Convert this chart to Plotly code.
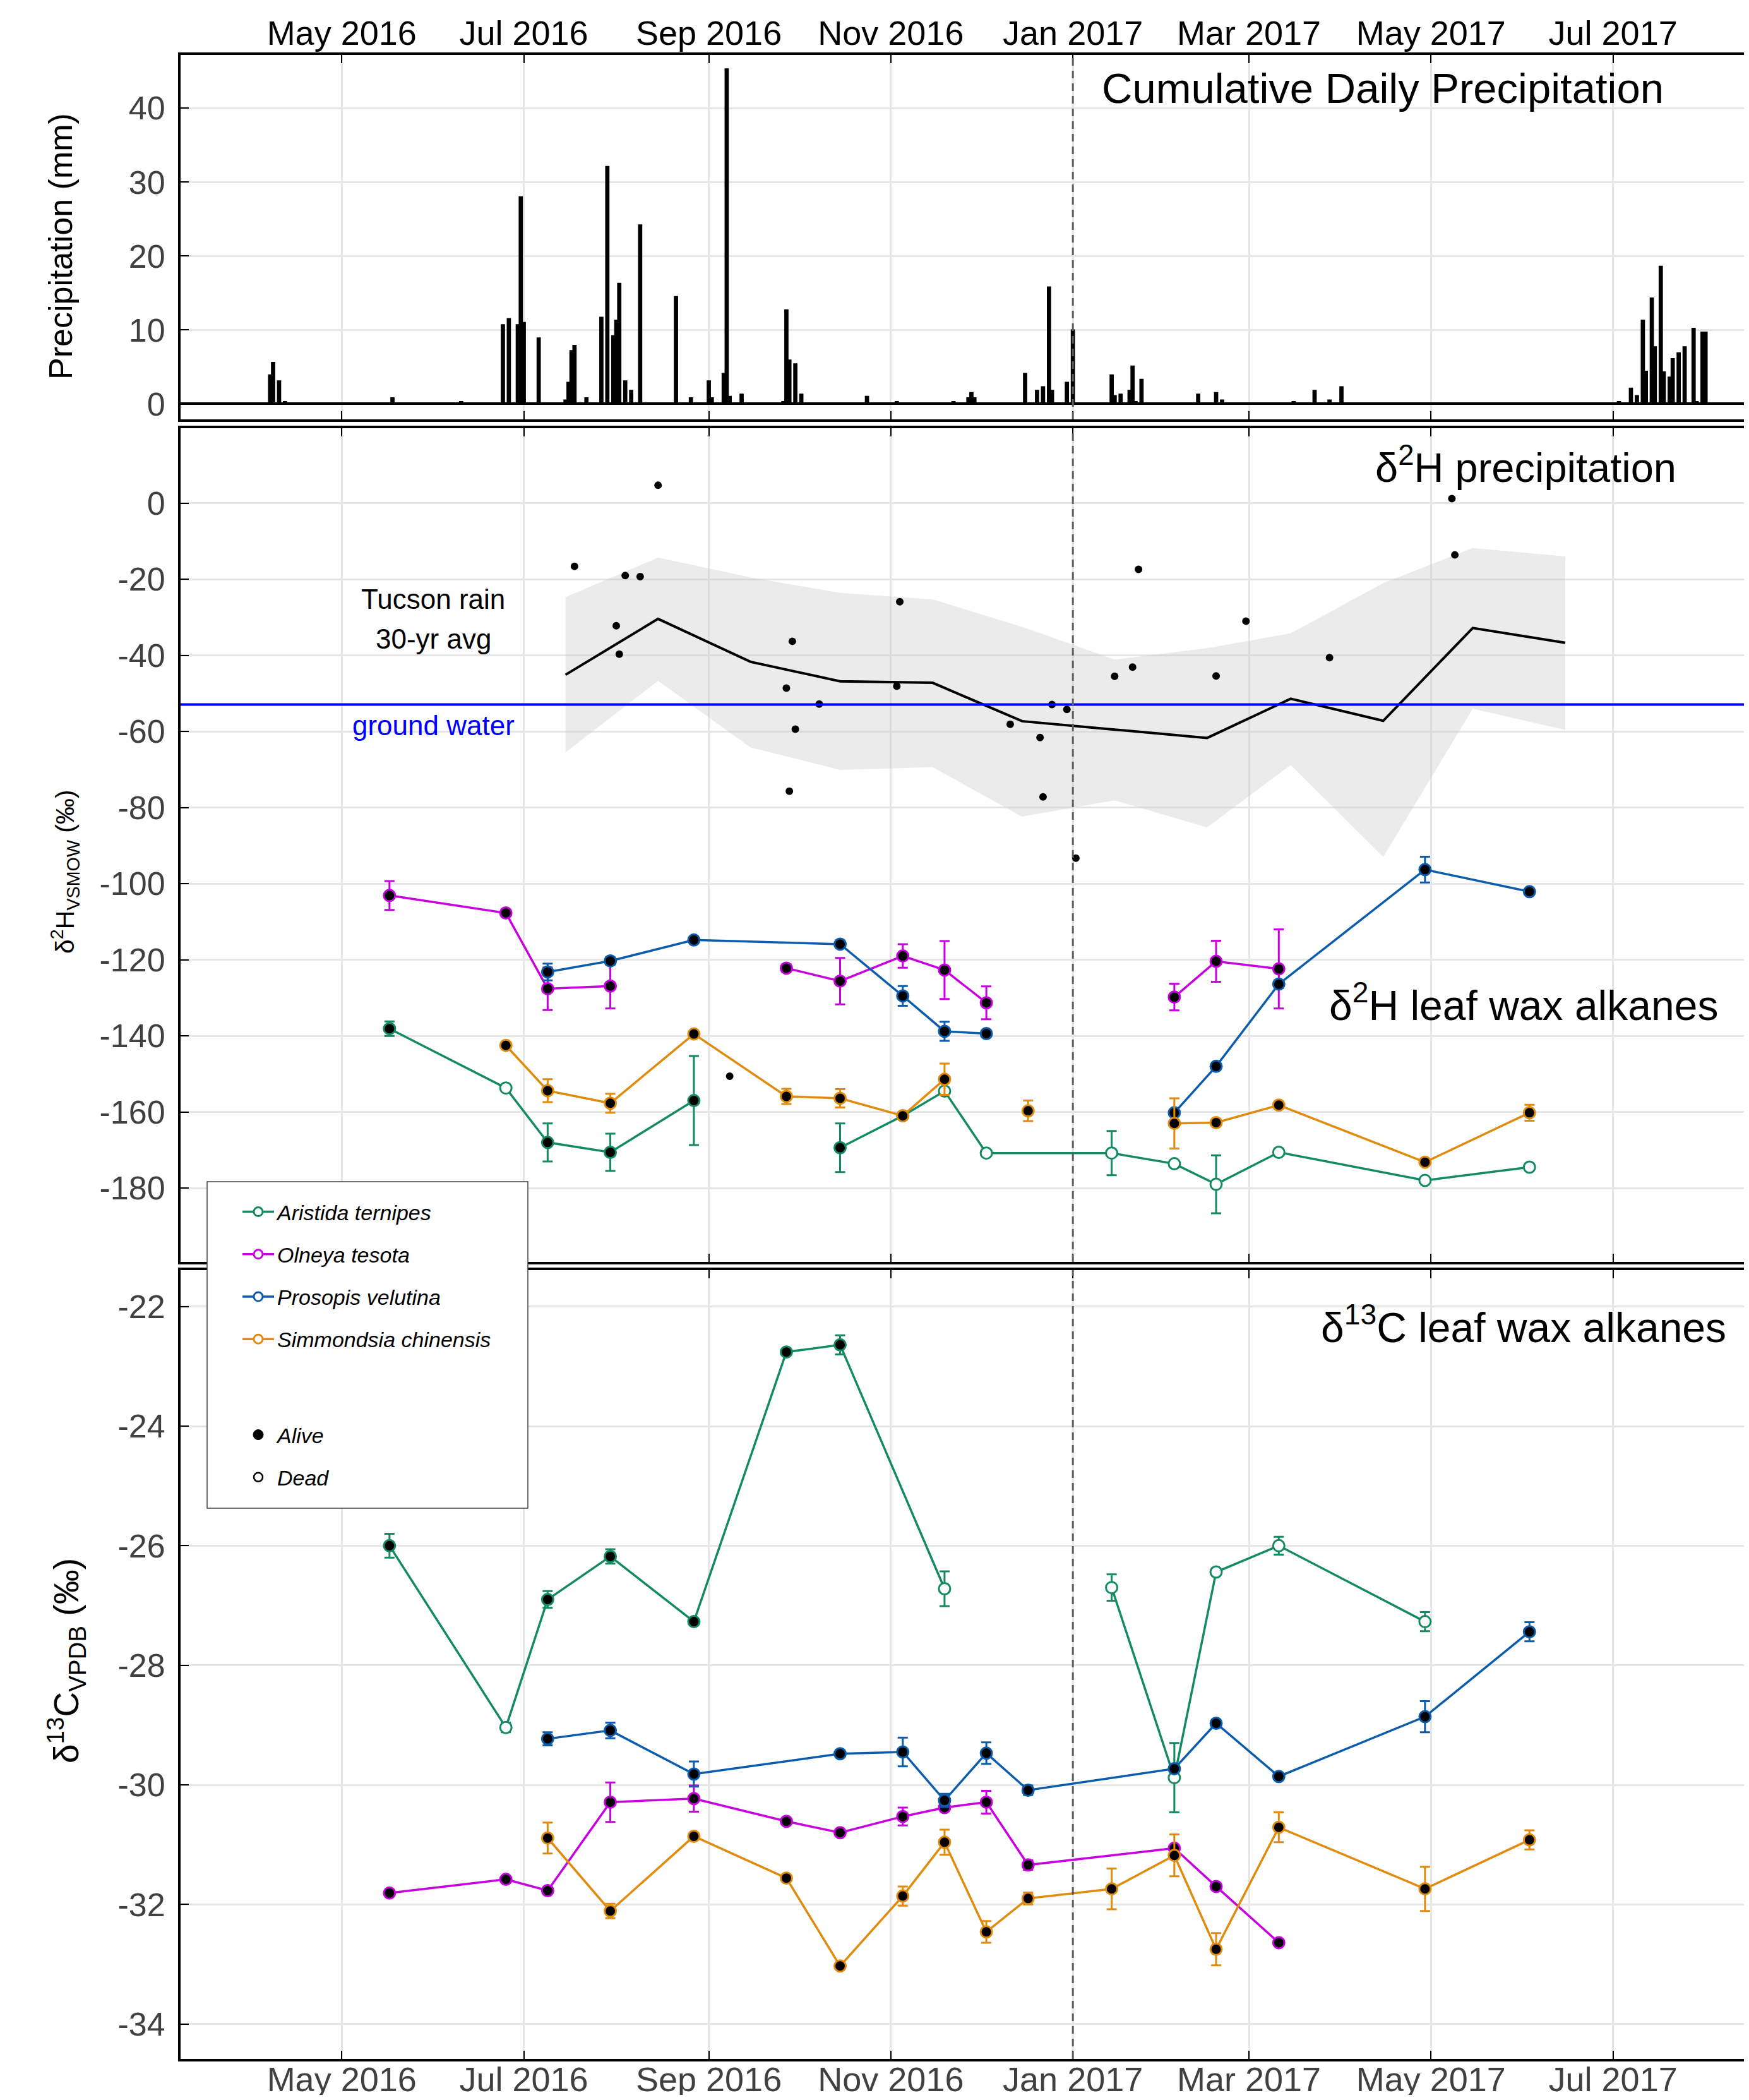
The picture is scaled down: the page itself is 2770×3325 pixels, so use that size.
import plotly.graph_objects as go

# ---------------------------------------------------------------- data
PRECIP_DATES = [
    "2016-04-07", "2016-04-08", "2016-04-10", "2016-04-12", "2016-05-18", "2016-06-10",
    "2016-06-24", "2016-06-26", "2016-06-29", "2016-06-30", "2016-07-01", "2016-07-06",
    "2016-07-15", "2016-07-16", "2016-07-17", "2016-07-18", "2016-07-22", "2016-07-27",
    "2016-07-29", "2016-07-31", "2016-08-01", "2016-08-02", "2016-08-04", "2016-08-06",
    "2016-08-09", "2016-08-21", "2016-08-26", "2016-09-01", "2016-09-02", "2016-09-06",
    "2016-09-07", "2016-09-08", "2016-09-12", "2016-09-26", "2016-09-27", "2016-09-28",
    "2016-09-30", "2016-10-02", "2016-10-24", "2016-11-03", "2016-11-22", "2016-11-27",
    "2016-11-28", "2016-11-29", "2016-12-16", "2016-12-20", "2016-12-22", "2016-12-24",
    "2016-12-25", "2016-12-30", "2017-01-01", "2017-01-14", "2017-01-15", "2017-01-17",
    "2017-01-20", "2017-01-21", "2017-01-22", "2017-01-24", "2017-02-12", "2017-02-18",
    "2017-02-20", "2017-03-16", "2017-03-23", "2017-03-28", "2017-04-01", "2017-07-03",
    "2017-07-07", "2017-07-09", "2017-07-11", "2017-07-12", "2017-07-14", "2017-07-15",
    "2017-07-17", "2017-07-18", "2017-07-20", "2017-07-21", "2017-07-23", "2017-07-25",
    "2017-07-28", "2017-07-29", "2017-07-31", "2017-08-01",
]
PRECIP_MM = [
    3.9, 5.6, 3.1, 0.3, 0.8, 0.3,
    10.7, 11.5, 10.7, 28.0, 11.0, 8.9,
    0.5, 2.9, 7.2, 7.9, 0.8, 11.7,
    32.1, 9.2, 11.3, 16.3, 3.1, 1.8,
    24.2, 14.5, 0.8, 3.1, 0.8, 4.1,
    45.3, 1.0, 1.3, 0.3, 12.7, 5.9,
    5.4, 1.3, 1.0, 0.3, 0.3, 0.8,
    1.5, 0.8, 4.1, 1.8, 2.3, 15.8,
    1.8, 2.9, 10.0, 3.9, 1.1, 1.3,
    1.8, 5.1, 0.3, 3.3, 1.3, 1.5,
    0.5, 0.3, 1.8, 0.5, 2.3, 0.3,
    2.1, 1.1, 11.3, 4.4, 14.3, 7.7,
    18.6, 4.3, 3.6, 6.1, 6.9, 7.7,
    10.2, 0.3, 9.7, 9.7,
]

RAIN_D2H_DATES = [
    "2016-07-18", "2016-08-01", "2016-08-02", "2016-08-04", "2016-08-09", "2016-08-15",
    "2016-09-08", "2016-09-27", "2016-09-28", "2016-09-29", "2016-09-30", "2016-10-08",
    "2016-11-03", "2016-11-04", "2016-12-11", "2016-12-21", "2016-12-22", "2016-12-25",
    "2016-12-30", "2017-01-02", "2017-01-15", "2017-01-21", "2017-01-23", "2017-02-18",
    "2017-02-28", "2017-03-28", "2017-05-08", "2017-05-09",
]
RAIN_D2H = [
    -16.6, -32.2, -39.7, -19.0, -19.3, 4.7,
    -150.6, -48.6, -75.7, -36.3, -59.4, -52.8,
    -48.1, -25.9, -58.1, -61.6, -77.2, -52.9,
    -54.2, -93.3, -45.5, -43.1, -17.4, -45.4,
    -31.0, -40.6, 1.2, -13.6,
]

NORMAL_DATES = ["2016-07-15", "2016-08-15", "2016-09-15", "2016-10-15", "2016-11-15", "2016-12-15",
                "2017-01-15", "2017-02-15", "2017-03-15", "2017-04-15", "2017-05-15", "2017-06-15"]
NORMAL_MEAN = [-45.1, -30.4, -41.7, -46.8, -47.2, -57.3, -59.5, -61.7, -51.4, -57.2, -32.8, -36.7]
NORMAL_HIGH = [-24.7, -14.3, -19.5, -23.6, -25.3, -32.5, -41.1, -38.1, -34.2, -21.0, -11.8, -14.0]
NORMAL_LOW = [-65.5, -46.7, -64.2, -70.1, -69.4, -82.4, -78.1, -85.2, -68.8, -93.0, -54.0, -59.6]

GROUND_WATER_D2H = -52.9
YEAR_SPLIT = "2017-01-01"

SPECIES = ["Aristida ternipes", "Olneya tesota", "Prosopis velutina", "Simmondsia chinensis"]
COLORS = ["#138a63", "#c800e0", "#0b5cad", "#e08b0c"]

# delta 2H leaf wax (None = no sample, line broken)
ARISTIDA_D2H_DATES = ["2016-05-17", "2016-06-25", "2016-07-09", "2016-07-30", "2016-08-27", "2016-09-27",
                      "2016-10-15", "2016-11-05", "2016-11-19", "2016-12-03", "2017-01-14", "2017-02-04",
                      "2017-02-18", "2017-03-11", "2017-04-29", "2017-06-03"]
ARISTIDA_D2H = [-138.1, -153.7, -168.0, -170.6, -157.0, None, -169.4, -161.0, -154.5, -170.8,
                -170.8, -173.6, -179.0, -170.6, -178.0, -174.5]
ARISTIDA_D2H_SD = [1.9, 0.5, 5.0, 4.9, 11.7, None, 6.4, 0.5, 0.5, 0.5, 5.8, 0.5, 7.6, 0.5, 0.5, 0.5]
ARISTIDA_D2H_ALIVE = [1, 0, 1, 1, 1, 1, 1, 1, 0, 0, 0, 0, 0, 0, 0, 0]

OLNEYA_D2H_DATES = ["2016-05-17", "2016-06-25", "2016-07-09", "2016-07-30", "2016-08-27", "2016-09-27",
                    "2016-10-15", "2016-11-05", "2016-11-19", "2016-12-03", "2016-12-17", "2017-02-04",
                    "2017-02-18", "2017-03-11"]
OLNEYA_D2H = [-103.1, -107.7, -127.6, -126.9, None, -122.2, -125.6, -119.0, -122.7, -131.3, None,
              -129.8, -120.4, -122.4]
OLNEYA_D2H_SD = [3.8, 0.5, 5.6, 5.9, None, 1.0, 6.1, 3.1, 7.6, 4.3, None, 3.5, 5.4, 10.4]
OLNEYA_D2H_ALIVE = [1] * 14

PROSOPIS_D2H_DATES = ["2016-07-09", "2016-07-30", "2016-08-27", "2016-10-15", "2016-11-05", "2016-11-19",
                      "2016-12-03", "2016-12-17", "2017-02-04", "2017-02-18", "2017-03-11", "2017-04-29",
                      "2017-06-03"]
PROSOPIS_D2H = [-123.2, -120.3, -114.8, -115.9, -129.5, -138.8, -139.4, None, -160.2, -148.0,
                -126.4, -96.3, -102.1]
PROSOPIS_D2H_SD = [2.2, 1.0, 0.5, 1.0, 2.6, 2.5, 0.8, None, 0.8, 0.8, 1.0, 3.4, 0.8]
PROSOPIS_D2H_ALIVE = [1] * 13

SIMMONDSIA_D2H_DATES = ["2016-06-25", "2016-07-09", "2016-07-30", "2016-08-27", "2016-09-27", "2016-10-15",
                        "2016-11-05", "2016-11-19", "2016-12-03", "2016-12-17", "2017-01-14", "2017-02-04",
                        "2017-02-18", "2017-03-11", "2017-04-29", "2017-06-03"]
SIMMONDSIA_D2H = [-142.5, -154.4, -157.7, -139.5, -155.9, -156.4, -161.0, -151.4, None, -159.7, None,
                  -163.0, -162.8, -158.2, -173.2, -160.2]
SIMMONDSIA_D2H_SD = [0.8, 3.0, 2.5, 0.8, 2.0, 2.4, 0.8, 4.1, None, 2.7, None, 6.6, 0.8, 1.0, 0.8, 2.1]
SIMMONDSIA_D2H_ALIVE = [1] * 16

# delta 13C leaf wax
ARISTIDA_D13C_DATES = ["2016-05-17", "2016-06-25", "2016-07-09", "2016-07-30", "2016-08-27", "2016-09-27",
                       "2016-10-15", "2016-11-19", "2016-12-03", "2017-01-14", "2017-02-04", "2017-02-18",
                       "2017-03-11", "2017-04-29"]
ARISTIDA_D13C = [-26.0, -29.04, -26.9, -26.18, -27.27, -22.76, -22.64, -26.72, None, -26.70, -29.88,
                 -26.44, -26.0, -27.27]
ARISTIDA_D13C_SD = [0.2, 0.08, 0.14, 0.12, 0.05, 0.05, 0.16, 0.29, None, 0.22, 0.58, 0.05, 0.15, 0.16]
ARISTIDA_D13C_ALIVE = [1, 0, 1, 1, 1, 1, 1, 0, 0, 0, 0, 0, 0, 0]

OLNEYA_D13C_DATES = ["2016-05-17", "2016-06-25", "2016-07-09", "2016-07-30", "2016-08-27", "2016-09-27",
                     "2016-10-15", "2016-11-05", "2016-11-19", "2016-12-03", "2016-12-17", "2017-02-04",
                     "2017-02-18", "2017-03-11"]
OLNEYA_D13C = [-31.81, -31.58, -31.77, -30.29, -30.23, -30.61, -30.80, -30.53, -30.38, -30.29,
               -31.34, -31.06, -31.70, -32.64]
OLNEYA_D13C_SD = [0.03, 0.03, 0.03, 0.33, 0.22, 0.03, 0.03, 0.15, 0.05, 0.19, 0.08, 0.05, 0.05, 0.03]
OLNEYA_D13C_ALIVE = [1] * 14

PROSOPIS_D13C_DATES = ["2016-07-09", "2016-07-30", "2016-08-27", "2016-10-15", "2016-11-05", "2016-11-19",
                       "2016-12-03", "2016-12-17", "2017-02-04", "2017-02-18", "2017-03-11", "2017-04-29",
                       "2017-06-03"]
PROSOPIS_D13C = [-29.23, -29.09, -29.82, -29.48, -29.45, -30.26, -29.47, -30.09, -29.73, -28.97,
                 -29.86, -28.86, -27.44]
PROSOPIS_D13C_SD = [0.11, 0.13, 0.21, 0.06, 0.24, 0.11, 0.18, 0.08, 0.05, 0.05, 0.05, 0.26, 0.16]
PROSOPIS_D13C_ALIVE = [1] * 13

SIMMONDSIA_D13C_DATES = ["2016-07-09", "2016-07-30", "2016-08-27", "2016-09-27", "2016-10-15", "2016-11-05",
                         "2016-11-19", "2016-12-03", "2016-12-17", "2017-01-14", "2017-02-04", "2017-02-18",
                         "2017-03-11", "2017-04-29", "2017-06-03"]
SIMMONDSIA_D13C = [-30.89, -32.11, -30.86, -31.56, -33.03, -31.86, -30.96, -32.46, -31.90, -31.74,
                   -31.18, -32.75, -30.71, -31.74, -30.92]
SIMMONDSIA_D13C_SD = [0.26, 0.12, 0.03, 0.03, 0.03, 0.16, 0.21, 0.18, 0.1, 0.34, 0.35, 0.27, 0.25, 0.37, 0.16]
SIMMONDSIA_D13C_ALIVE = [1] * 15

PRECIP_TICKS = [0, 10, 20, 30, 40]
D2H_TICKS = [0, -20, -40, -60, -80, -100, -120, -140, -160, -180]
D2H_TICK_LABELS = ["0", "-20", "-40", "-60", "-80", "-100", "-120", "-140", "-160", "-180"]
D13C_TICKS = [-22, -24, -26, -28, -30, -32, -34]
D13C_TICK_LABELS = ["-22", "-24", "-26", "-28", "-30", "-32", "-34"]

# ---------------------------------------------------------------- layout geometry
# page body has an 8px margin: the figure is 16px smaller than the window and
# all positions below are given in window pixels (converted through fx / fy)
PAGE_PAD = 8
W, H = 2770 - 2 * PAGE_PAD, 3325 - 2 * PAGE_PAD
PLOT_L, PLOT_R, PLOT_T, PLOT_B = 286, 2762, 87, 3260       # plot area in window pixels
ML, MT = PLOT_L - PAGE_PAD, PLOT_T - PAGE_PAD
MR = W - (PLOT_R - PAGE_PAD)
MB = H - (PLOT_B - PAGE_PAD)
PW, PH = PLOT_R - PLOT_L, PLOT_B - PLOT_T
FONT = "Liberation Sans, Arial, Helvetica, sans-serif"
X_RANGE = ["2016-03-08", "2017-08-13 21:00"]


def fx(px):
    return (px - PLOT_L) / PW


def fy(py):
    return (PLOT_B - py) / PH


DOM_TOP = [fy(664), 1.0]
DOM_MID = [fy(1998), fy(678)]
DOM_BOT = [0.0, fy(2011)]

fig = go.Figure()

# precipitation bars
fig.add_trace(go.Bar(x=PRECIP_DATES, y=PRECIP_MM, width=86400000,
                     marker=dict(color="black", line=dict(color="black", width=2)),
                     showlegend=False, xaxis="x", yaxis="y", name="Precipitation"))

# Tucson 30-yr band + mean
fig.add_trace(go.Scatter(x=NORMAL_DATES, y=NORMAL_LOW, mode="lines", line=dict(width=0),
                         showlegend=False, xaxis="x2", yaxis="y2", hoverinfo="skip"))
fig.add_trace(go.Scatter(x=NORMAL_DATES, y=NORMAL_HIGH, mode="lines", line=dict(width=0),
                         fill="tonexty", fillcolor="rgba(200,200,200,0.36)",
                         showlegend=False, xaxis="x2", yaxis="y2", hoverinfo="skip"))
fig.add_trace(go.Scatter(x=NORMAL_DATES, y=NORMAL_MEAN, mode="lines",
                         line=dict(color="black", width=4),
                         showlegend=False, xaxis="x2", yaxis="y2", name="Tucson rain 30-yr avg"))
fig.add_trace(go.Scatter(x=RAIN_D2H_DATES, y=RAIN_D2H, mode="markers",
                         marker=dict(color="black", size=12),
                         showlegend=False, xaxis="x2", yaxis="y2", name="precipitation"))

D2H_SERIES = [
    (ARISTIDA_D2H_DATES, ARISTIDA_D2H, ARISTIDA_D2H_SD, ARISTIDA_D2H_ALIVE),
    (OLNEYA_D2H_DATES, OLNEYA_D2H, OLNEYA_D2H_SD, OLNEYA_D2H_ALIVE),
    (PROSOPIS_D2H_DATES, PROSOPIS_D2H, PROSOPIS_D2H_SD, PROSOPIS_D2H_ALIVE),
    (SIMMONDSIA_D2H_DATES, SIMMONDSIA_D2H, SIMMONDSIA_D2H_SD, SIMMONDSIA_D2H_ALIVE),
]
D13C_SERIES = [
    (ARISTIDA_D13C_DATES, ARISTIDA_D13C, ARISTIDA_D13C_SD, ARISTIDA_D13C_ALIVE),
    (OLNEYA_D13C_DATES, OLNEYA_D13C, OLNEYA_D13C_SD, OLNEYA_D13C_ALIVE),
    (PROSOPIS_D13C_DATES, PROSOPIS_D13C, PROSOPIS_D13C_SD, PROSOPIS_D13C_ALIVE),
    (SIMMONDSIA_D13C_DATES, SIMMONDSIA_D13C, SIMMONDSIA_D13C_SD, SIMMONDSIA_D13C_ALIVE),
]

for series, xa, ya in ((D2H_SERIES, "x2", "y2"), (D13C_SERIES, "x3", "y3")):
    for (dates, vals, sd, alive), name, col in zip(series, SPECIES, COLORS):
        fig.add_trace(go.Scatter(
            x=dates, y=vals, mode="lines+markers", connectgaps=False,
            line=dict(color=col, width=3.5),
            marker=dict(size=18, color=["black" if a else "white" for a in alive],
                        line=dict(color=col, width=3)),
            error_y=dict(type="data", array=sd, color=col, thickness=3, width=8),
            showlegend=False, xaxis=xa, yaxis=ya, name=name))

# legend entries
for name, col in zip(SPECIES, COLORS):
    fig.add_trace(go.Scatter(x=[None], y=[None], mode="lines+markers", name=f"<i>{name}</i>",
                             line=dict(color=col, width=3.5),
                             marker=dict(size=14, color="white", line=dict(color=col, width=3)),
                             legend="legend", legendgroup=name, xaxis="x3", yaxis="y3"))
fig.add_trace(go.Scatter(x=[None], y=[None], mode="markers", name="<i>Alive</i>",
                         marker=dict(size=16, color="black", line=dict(color="black", width=1)),
                         legend="legend2", legendgroup="alive", xaxis="x3", yaxis="y3"))
fig.add_trace(go.Scatter(x=[None], y=[None], mode="markers", name="<i>Dead</i>",
                         marker=dict(size=14, color="white", line=dict(color="black", width=2.5)),
                         legend="legend2", legendgroup="dead", xaxis="x3", yaxis="y3"))

xcommon = dict(type="date", range=X_RANGE, dtick="M2", tick0="2016-05-01", tickformat="%b %Y",
               showgrid=True, gridcolor="#e6e6e6", gridwidth=3, zeroline=False,
               showline=True, linecolor="black", linewidth=4, mirror="ticks",
               ticks="inside", ticklen=13, tickwidth=2, tickcolor="black")
ycommon = dict(showgrid=True, gridcolor="#e6e6e6", gridwidth=3,
               showline=True, linecolor="black", linewidth=4, mirror=False,
               ticks="inside", ticklen=13, tickwidth=2, tickcolor="black",
               ticklabelstandoff=10,
               tickfont=dict(size=52, color="#404040", family=FONT))

fig.update_layout(
    width=W, height=H, margin=dict(l=ML, r=MR, t=MT, b=MB, autoexpand=False),
    paper_bgcolor="white", plot_bgcolor="white",
    font=dict(family=FONT, color="black"),
    xaxis=dict(xcommon, anchor="y", side="top", domain=[0, 1], ticklabelstandoff=-10,
               tickfont=dict(size=54, color="black", family=FONT)),
    xaxis2=dict(xcommon, anchor="y2", showticklabels=False, domain=[0, 1], matches="x"),
    xaxis3=dict(xcommon, anchor="y3", side="bottom", domain=[0, 1], matches="x", ticklabelstandoff=-18,
                tickfont=dict(size=54, color="#404040", family=FONT)),
    yaxis=dict(ycommon, domain=DOM_TOP, range=[-2.1, 47.2], tickvals=PRECIP_TICKS,
               zeroline=True, zerolinecolor="black", zerolinewidth=4),
    yaxis2=dict(ycommon, domain=DOM_MID, range=[-199.4, 19.7], tickvals=D2H_TICKS,
                ticktext=D2H_TICK_LABELS, zeroline=False),
    yaxis3=dict(ycommon, domain=DOM_BOT, range=[-34.585, -21.39], tickvals=D13C_TICKS,
                ticktext=D13C_TICK_LABELS, zeroline=False),
    legend=dict(x=fx(379), y=fy(1890), xanchor="left", yanchor="top", bgcolor="rgba(0,0,0,0)",
                borderwidth=0, font=dict(size=34, color="black", family=FONT),
                itemwidth=50, tracegroupgap=20),
    legend2=dict(x=fx(379), y=fy(2243), xanchor="left", yanchor="top", bgcolor="rgba(0,0,0,0)",
                 borderwidth=0, font=dict(size=34, color="black", family=FONT),
                 itemwidth=50, tracegroupgap=20),
)

shapes = [
    dict(type="rect", xref="paper", yref="paper", x0=fx(328), x1=fx(836), y0=fy(2388), y1=fy(1871),
         fillcolor="white", line=dict(color="#444444", width=1.5), layer="above"),
    dict(type="line", xref="x2 domain", yref="y2", x0=0, x1=1, y0=GROUND_WATER_D2H, y1=GROUND_WATER_D2H,
         line=dict(color="#0000ff", width=4), layer="above"),
]
for xa, ya in (("x", "y"), ("x2", "y2"), ("x3", "y3")):
    shapes.append(dict(type="line", xref=xa, yref=f"{ya} domain", x0=YEAR_SPLIT, x1=YEAR_SPLIT, y0=0, y1=1,
                       line=dict(color="#606060", width=3, dash="12px,8px"), layer="above"))
fig.update_layout(shapes=shapes)


def ann(text, px, py, size, color="black", angle=0):
    return dict(text=text, x=fx(px), y=fy(py), xref="paper", yref="paper", showarrow=False,
                xanchor="center", yanchor="middle", textangle=angle,
                font=dict(size=size, color=color, family=FONT))


fig.update_layout(annotations=[
    ann("Cumulative Daily Precipitation", 2190, 140, 67),
    ann("δ<sup>2</sup>H precipitation", 2416, 736, 65),
    ann("Tucson rain", 686, 948, 44),
    ann("30-yr avg", 686, 1012, 44),
    ann("ground water", 686, 1148, 44, color="#0000ff"),
    ann("δ<sup>2</sup>H leaf wax alkanes", 2413, 1587, 66),
    ann("δ<sup>13</sup>C leaf wax alkanes", 2413, 2097, 66),
    ann("Precipitation (mm)", 96, 390, 52, angle=-90),
    ann("δ<sup>2</sup>H<sub>VSMOW</sub> (‰)", 103, 1380, 41, angle=-90),
    ann("δ<sup>13</sup>C<sub>VPDB</sub> (‰)", 105, 2630, 55, angle=-90),
])

fig.write_html("out.html")
